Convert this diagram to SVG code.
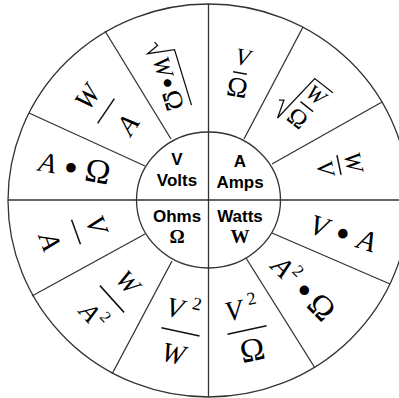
<svg xmlns="http://www.w3.org/2000/svg" width="399" height="398" viewBox="0 0 399 398">
<style>
.ln{stroke:#333;stroke-width:1.3;fill:none}
.bar{stroke:#111;stroke-width:1.5}
.rad{stroke:#111;stroke-width:1.3;fill:none}
.c{font-family:"Liberation Sans",Arial,sans-serif;font-weight:bold;font-size:17px;fill:#000;text-anchor:middle}
.cs{font-family:"Liberation Serif","Times New Roman",serif;font-weight:bold;font-size:19px;fill:#000;text-anchor:middle}
.m{font-family:"Liberation Serif","Times New Roman",serif;font-style:italic;fill:#000;text-anchor:middle}
.u{font-style:normal}
</style>
<rect width="399" height="398" fill="#fff"/>
<g id="connectors">
<ellipse class="ln" cx="208.5" cy="200.5" rx="200.5" ry="196.5"/>
<ellipse class="ln" cx="208.5" cy="200" rx="72" ry="68"/>
<line class="ln" x1="8" y1="200" x2="399" y2="200"/>
<line class="ln" x1="208.5" y1="4" x2="208.5" y2="397"/>
<line class="ln" x1="171" y1="139" x2="105" y2="31"/>
<line class="ln" x1="145" y1="166" x2="29" y2="113"/>
<line class="ln" x1="244" y1="139" x2="303" y2="27"/>
<line class="ln" x1="272" y1="164" x2="382" y2="102"/>
<line class="ln" x1="145" y1="234" x2="32" y2="296"/>
<line class="ln" x1="172" y1="261" x2="112" y2="374"/>
<line class="ln" x1="272" y1="233" x2="390" y2="284"/>
<line class="ln" x1="246" y1="258" x2="315" y2="368"/>
</g>
<g id="n-volts"><text class="c" x="177" y="165">V</text><text class="c" x="177" y="186">Volts</text></g>
<g id="n-amps"><text class="c" x="240" y="167">A</text><text class="c" x="240" y="188">Amps</text></g>
<g id="n-ohms"><text class="c" x="177" y="222">Ohms</text><text class="cs" x="177" y="243">Ω</text></g>
<g id="n-watts"><text class="c" x="240" y="222">Watts</text><text class="cs" x="240" y="243">W</text></g>

<g id="f-v-ohm" transform="translate(240,73) rotate(10)" font-size="24">
<text class="m" x="0" y="-8">V</text><line class="bar" x1="-7" y1="0" x2="7" y2="0"/><text class="m u" x="0" y="24" font-size="28">Ω</text></g>

<g id="f-sqrt-w-ohm" transform="translate(306,106) rotate(38)" font-size="22">
<path class="rad" d="M-25,12 L-21,9 L-15,27 L-10,-27 L13,-27"/>
<text class="m" x="1" y="-7.5">W</text><line class="bar" x1="-7" y1="0" x2="9" y2="0"/><text class="m u" x="1" y="23" font-size="25">Ω</text></g>

<g id="f-w-v" transform="translate(339,165) rotate(78)" font-size="24">
<text class="m" x="0" y="-7">W</text><line class="bar" x1="-10" y1="0" x2="10" y2="0"/><text class="m" x="0" y="22">V</text></g>

<g id="f-v-dot-a" transform="translate(343,233) rotate(17)" font-size="29">
<text class="m" x="-25" y="10">V</text><text class="m u" x="0" y="14" font-size="40">•</text><text class="m" x="25" y="10">A</text></g>

<g id="f-a2-dot-ohm" transform="translate(302,287) rotate(45)" font-size="28">
<text class="m" x="-28" y="9">A</text><text class="m u" x="-14" y="-3" font-size="17">2</text><text class="m u" x="4" y="14" font-size="40">•</text><text class="m u" x="28" y="11" font-size="33">Ω</text></g>

<g id="f-v2-ohm" transform="translate(247,330) rotate(-12)" font-size="28">
<text class="m" x="-9" y="-12.5">V</text><text class="m u" x="11" y="-24" font-size="18">2</text><line class="bar" x1="-20" y1="0" x2="20" y2="0"/><text class="m u" x="1" y="31.5" font-size="33">Ω</text></g>

<g id="f-v2-w" transform="translate(181,332) rotate(12)" font-size="28">
<text class="m" x="-11" y="-13">V</text><text class="m u" x="10" y="-25" font-size="18">2</text><line class="bar" x1="-20" y1="0" x2="19" y2="0"/><text class="m" x="-3" y="32">W</text></g>

<g id="f-w-a2" transform="translate(112,299) rotate(48)" font-size="26">
<text class="m" x="-2" y="-14.5">W</text><line class="bar" x1="-18" y1="0" x2="18" y2="0"/><text class="m" x="-5" y="34">A</text><text class="m u" x="9" y="22" font-size="16">2</text></g>

<g id="f-v-a" transform="translate(76,232) rotate(70)" font-size="28">
<text class="m" x="0" y="-12.5">V</text><line class="bar" x1="-13" y1="0" x2="13" y2="0"/><text class="m" x="0" y="37">A</text></g>

<g id="f-a-dot-ohm" transform="translate(72,168) rotate(10)" font-size="28">
<text class="m" x="-25" y="8.5">A</text><text class="m u" x="-1" y="13" font-size="40">•</text><text class="m u" x="26" y="10" font-size="34">Ω</text></g>

<g id="f-w-a" transform="translate(106,111) rotate(-56)" font-size="28">
<text class="m" x="1" y="-14">W</text><line class="bar" x1="-15" y1="0" x2="15" y2="0"/><text class="m" x="0.7" y="35">A</text></g>

<g id="f-sqrt-w-dot-ohm" transform="translate(168,83) rotate(73)" font-size="24">
<path class="rad" d="M-43,1 L-39,-1 L-34,11 L-30,-16 L28,-16"/>
<text class="m" x="-17" y="8">W</text><text class="m u" x="0" y="11" font-size="32">•</text><text class="m u" x="18" y="9" font-size="27">Ω</text></g>
</svg>
